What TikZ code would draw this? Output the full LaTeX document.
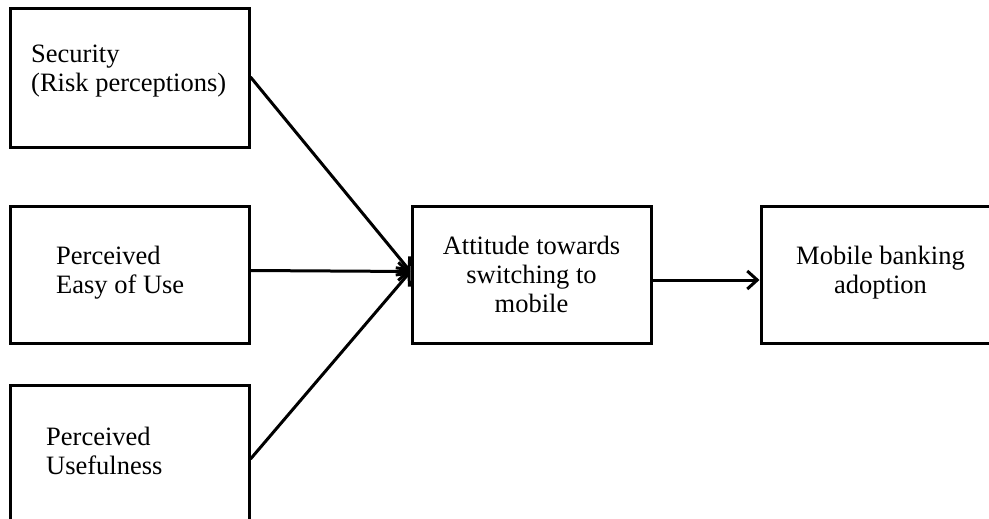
\documentclass[tikz,border=0pt]{standalone}
\usepackage{fontspec}
\setmainfont{Liberation Serif}
\usetikzlibrary{arrows.meta}
\begin{document}
\begin{tikzpicture}[x=1pt,y=-1pt,
  box/.style={draw=black, line width=3pt, minimum width=239pt, inner sep=0pt},
  lbl/.style={inner sep=0pt, font=\fontsize{26.5}{29}\selectfont, text=black},
  conn/.style={line width=3pt, -{Straight Barb[length=10pt,width=18pt,line width=3pt]}}]
\useasboundingbox (0,0) rectangle (989,519);
\node[box, minimum height=138pt] (sec) at (129.5,78) {};
\node[box, minimum height=137pt] (easy) at (129.5,274.5) {};
\node[box, minimum height=140pt] (use) at (129.5,455) {};
\node[box, minimum height=137pt] (att) at (531.5,274.5) {};
\node[box, minimum height=137pt] (mob) at (880.5,274.5) {};
\node[lbl, anchor=west, align=left] (tsec) at (31,71) {Security\\(Risk perceptions)};
\node[lbl, anchor=west, align=left] (teasy) at (56,273) {Perceived\\Easy of Use};
\node[lbl, anchor=west, align=left] (tuse) at (46,451) {Perceived\\Usefulness};
\node[lbl, align=center] (tatt) at (531.5,274.5) {Attitude towards\\switching to\\mobile};
\node[lbl, align=center] (tmob) at (880.5,273) {Mobile banking\\adoption};
\coordinate (m) at ([yshift=3pt]att.west);
\draw[conn] ([yshift=1pt]sec.east) -- (m);
\draw[conn] ([yshift=4pt]easy.east) -- (m);
\draw[conn] ([yshift=-4pt]use.east) -- (m);
\draw[conn] ([yshift=-5.5pt]att.east) -- ([yshift=-5.5pt]mob.west);
\end{tikzpicture}
\end{document}
